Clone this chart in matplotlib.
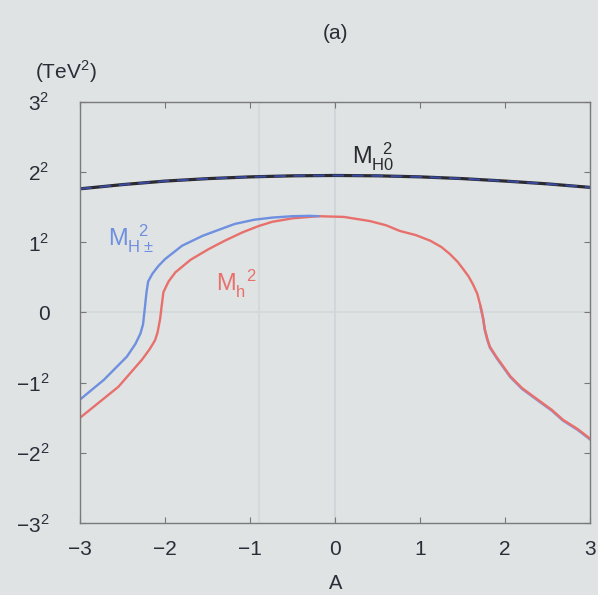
import numpy as np
import matplotlib
matplotlib.use('Agg')
import matplotlib.pyplot as plt

plt.rcParams['font.family'] = ['Liberation Sans', 'DejaVu Sans']
plt.rcParams['mathtext.fontset'] = 'custom'
plt.rcParams['mathtext.rm'] = 'Liberation Sans'

# values are sign(M^2)*sqrt(|M^2|) in TeV
a_heavy = [-3, -2.5, -2, -1.5, -1, -0.5, 0, 0.5, 1, 1.5, 2, 2.5, 3]
m_heavy = [1.76, 1.82, 1.87, 1.905, 1.93, 1.945, 1.95, 1.945, 1.93, 1.905, 1.87, 1.83, 1.78]

a_charged = [-3, -2.72, -2.45, -2.35, -2.29, -2.26, -2.24, -2.22, -2.2, -2.15, -2.08, -2.0,
             -1.8, -1.56, -1.36, -1.18, -0.95, -0.74, -0.5, -0.3, -0.2]
m_charged = [-1.24, -0.96, -0.63, -0.45, -0.3, -0.17, 0.05, 0.28, 0.44, 0.55, 0.66, 0.76,
             0.95, 1.09, 1.18, 1.26, 1.32, 1.35, 1.37, 1.375, 1.37]

a_light = [-3, -2.55, -2.27, -2.18, -2.12, -2.09, -2.06, -2.04, -2.02, -1.96, -1.88, -1.7,
           -1.49, -1.3, -1.09, -0.9, -0.74, -0.5, -0.2, 0.1, 0.41, 0.6, 0.76, 0.95, 1.12,
           1.25, 1.35, 1.44, 1.51, 1.57, 1.62, 1.67, 1.71, 1.74, 1.76, 1.79, 1.82, 1.9,
           2.06, 2.2, 2.38, 2.55, 2.68, 2.85, 3.0]
m_light = [-1.5, -1.06, -0.67, -0.52, -0.4, -0.29, -0.1, 0.1, 0.29, 0.44, 0.57, 0.75,
           0.9, 1.02, 1.14, 1.23, 1.29, 1.34, 1.37, 1.36, 1.30, 1.24, 1.16, 1.1, 1.02,
           0.93, 0.83, 0.72, 0.61, 0.51, 0.4, 0.27, 0.09, -0.08, -0.24, -0.38, -0.49, -0.64,
           -0.91, -1.08, -1.24, -1.39, -1.53, -1.66, -1.8]

y_ticks = [-3, -2, -1, 0, 1, 2, 3]
y_labels = [r'$-3^2$', r'$-2^2$', r'$-1^2$', '0', r'$1^2$', r'$2^2$', r'$3^2$']

bg = '#dfe3e3'
fig = plt.figure(figsize=(5.98, 5.95), dpi=100, facecolor=bg)
ax = fig.add_axes([0.134, 0.121, 0.853, 0.708], facecolor=bg)

# faint scan lines
ax.axhline(0, color='#d2d8da', lw=1.2, zorder=0)
ax.axvline(0, color='#d0d6da', lw=1.5, zorder=0)
ax.axvline(-0.9, color='#d3d9dc', lw=1.5, zorder=0)

tail_a = [x for x in a_light if x > 1.7]
tail_m = [y for x, y in zip(a_light, m_light) if x > 1.7]
ax.plot(tail_a, [y - 0.012 for y in tail_m], color='#8a95d8', lw=1.8)
ax.plot(a_light, m_light, color='#e8706c', lw=1.7)
ax.plot(a_charged, m_charged, color='#6f8fe0', lw=1.7)
ax.plot(a_heavy, m_heavy, color='#2a2a30', lw=2.3)
ax.plot(a_heavy, m_heavy, color='#3a4aa0', lw=1.4, ls=(0, (6, 4)))

ax.set_xlim(-3, 3)
ax.set_ylim(-3, 3)
ax.set_xticks([-3, -2, -1, 0, 1, 2, 3])
ax.set_xticklabels(['\u22123', '\u22122', '\u22121', '0', '1', '2', '3'])
ax.set_yticks(y_ticks)
ax.set_yticklabels(y_labels)
ax.tick_params(direction='in', top=True, right=True, length=4, width=0.8,
               color='#777777', labelsize=15, labelcolor='#2c2c38')
ax.tick_params(axis='x', pad=12)
ax.tick_params(axis='y', pad=22)
for s in ax.spines.values():
    s.set_color('#7a7a7a')
    s.set_linewidth(1.0)

ax.set_xlabel('A', fontsize=14.5, color='#2c2c38', labelpad=11)
ax.set_title('(a)', fontsize=15, color='#2c2c38', pad=45)
fig.text(0.058, 0.868, r'(TeV$^2$)', fontsize=15, color='#2c2c38')

ax.text(-2.67, 0.95, r'$\mathrm{M}_{\mathrm{H\pm}}^{\ \ 2}$', fontsize=17, color='#6f8fe0')
ax.text(-1.4, 0.3, r'$\mathrm{M}_{\mathrm{h}}^{\ \ 2}$', fontsize=17, color='#e8706c')
ax.text(0.2, 2.12, r'$\mathrm{M}_{\mathrm{H0}}^{\ \ 2}$', fontsize=17, color='#2a2a30')

plt.savefig('out.png', dpi=100, facecolor=bg)
